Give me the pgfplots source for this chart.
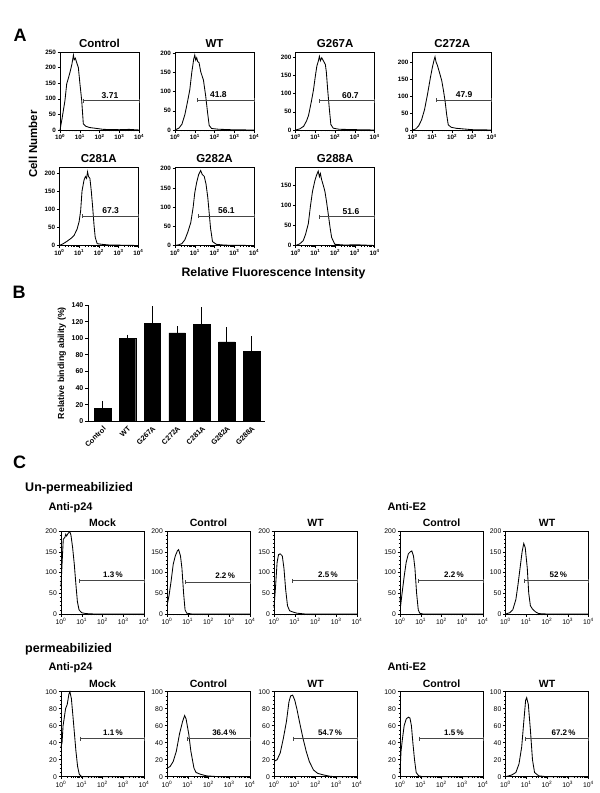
\documentclass[border=0pt]{standalone}
\usepackage{fontspec}
\setmainfont{Liberation Sans}
\usepackage{pgfplots}
\pgfplotsset{compat=1.18}
\newcommand{\fs}[1]{\fontsize{#1}{#1}\selectfont}
\tikzset{
  glab/.style={anchor=base, yshift=2.5pt, font=\bfseries\fs{8.5}},
  glabc/.style={anchor=base, yshift=3.3pt, font=\bfseries\fs{8}},
}
\pgfplotsset{
  every axis/.append style={/pgf/number format/assume math mode=true},
  every axis title shift=0pt,
  fbase/.style={scale only axis, anchor=south west, xmin=0, xmax=4, ymin=0, clip=false,
    xtick={0,1,2,3,4},
    xticklabels={10\textsuperscript{0},10\textsuperscript{1},10\textsuperscript{2},10\textsuperscript{3},10\textsuperscript{4}},
    minor xtick={0.301,0.477,0.602,0.699,0.778,0.845,0.903,0.954,1.301,1.477,1.602,1.699,1.778,1.845,1.903,1.954,2.301,2.477,2.602,2.699,2.778,2.845,2.903,2.954,3.301,3.477,3.602,3.699,3.778,3.845,3.903,3.954},
    tick align=outside, tick pos=left,
    major tick length=2.5pt, minor tick length=1.4pt,
    every tick/.style={black, line width=0.5pt},
    axis line style={line width=0.6pt},
    title style={at={(0.5,1)}, anchor=base},
    xticklabel style={inner sep=1.5pt},
    yticklabel style={inner sep=1.5pt},
  },
  fa/.style={fbase, width=79pt, height=78pt,
    title style={font=\bfseries\fs{11.5}, yshift=5pt},
    ticklabel style={font=\bfseries\fs{6.3}}},
  fc/.style={fbase, width=83pt,
    title style={font=\bfseries\fs{10.5}, yshift=4.3pt},
    ticklabel style={font=\fs{6.8}}},
  fc1/.style={fc, height=83pt, ymax=200, ytick={0,50,...,200}, minor y tick num=4},
  fc2/.style={fc, height=85pt, ymax=100, ytick={0,20,...,100}, minor y tick num=3},
  hist/.style={black, line width=0.85pt, no marks, sharp plot},
  gate/.style={gray!55!black, line width=0.7pt, mark=|, mark size=2pt, mark options={solid, line width=0.7pt}},
}
\begin{document}
\begin{tikzpicture}
\useasboundingbox (0pt,0pt) rectangle (600pt,-793pt);

% ---------- Panel A ----------
\node[font=\bfseries\fs{18}] at (20pt,-35.5pt) {A};
\node[font=\bfseries\fs{11.5}, rotate=90] at (33pt,-144pt) {Cell Number};
\node[font=\bfseries\fs{12.3}, anchor=base] at (273.5pt,-276pt) {Relative Fluorescence Intensity};

\begin{axis}[fa, at={(60pt,-130pt)}, ymax=250, ytick={0,50,...,250}, title={Control}]
\addplot[hist] coordinates {(0,0)(0.1,35)(0.25,94)(0.34,148)(0.42,165)(0.51,186)(0.6,210)(0.68,240)(0.72,225)(0.78,230)(0.85,215)(0.93,200)(1.01,148)(1.1,94)(1.18,20)(1.3,12)(1.5,8)(1.85,5)(2.2,2)(3,1)(3.5,2)(4,0)};
\addplot[gate] coordinates {(1.18,94)(4,94)};
\node[glab] at (axis cs:2.53,94) {3.71};
\end{axis}

\begin{axis}[fa, at={(175pt,-130pt)}, ymax=203, ytick={0,50,...,200}, title={WT}]
\addplot[hist] coordinates {(0,0)(0.2,5)(0.35,15)(0.5,40)(0.62,70)(0.75,105)(0.85,150)(0.95,185)(1.0,195)(1.05,182)(1.1,188)(1.15,178)(1.22,175)(1.3,152)(1.44,130)(1.55,90)(1.65,45)(1.73,12)(1.85,4)(2.2,2)(3,0.5)(4,0)};
\addplot[gate] coordinates {(1.15,77)(4,77)};
\node[glab] at (axis cs:2.2,77) {41.8};
\end{axis}

\begin{axis}[fa, at={(295.7pt,-130pt)}, ymax=214, ytick={0,50,...,200}, title={G267A}]
\addplot[hist] coordinates {(0,0)(0.2,3)(0.4,10)(0.55,25)(0.65,40)(0.8,80)(0.9,110)(1.0,150)(1.07,175)(1.15,190)(1.2,202)(1.25,190)(1.32,198)(1.4,190)(1.5,180)(1.55,160)(1.62,110)(1.7,60)(1.78,15)(1.9,5)(2.2,2)(3,1)(4,0)};
\addplot[gate] coordinates {(1.19,80)(4,80)};
\node[glab] at (axis cs:2.77,80) {60.7};
\end{axis}

\begin{axis}[fa, at={(412.7pt,-130pt)}, ymax=229, ytick={0,50,...,200}, title={C272A}]
\addplot[hist] coordinates {(0,0)(0.15,3)(0.3,12)(0.45,30)(0.6,60)(0.75,105)(0.9,155)(1.0,185)(1.08,205)(1.13,215)(1.18,200)(1.25,190)(1.35,170)(1.47,145)(1.56,115)(1.64,85)(1.72,45)(1.8,15)(1.95,8)(2.2,5)(2.6,3)(3,1)(4,0)};
\addplot[gate] coordinates {(1.21,87)(4,87)};
\node[glab] at (axis cs:2.6,87) {47.9};
\end{axis}

\begin{axis}[fa, at={(59.3pt,-245.5pt)}, ymax=215, ytick={0,50,...,200}, title={C281A}]
\addplot[hist] coordinates {(0,0)(0.2,5)(0.4,12)(0.6,20)(0.75,28)(0.9,45)(1.0,65)(1.08,95)(1.15,150)(1.25,180)(1.32,190)(1.38,185)(1.43,203)(1.48,190)(1.55,185)(1.62,150)(1.69,105)(1.76,55)(1.82,22)(1.92,5)(2.2,3)(2.6,1)(3.0,1)(4,0)};
\addplot[gate] coordinates {(1.16,81)(4,81)};
\node[glab] at (axis cs:2.6,81) {67.3};
\end{axis}

\begin{axis}[fa, at={(175pt,-245.5pt)}, ymax=203, ytick={0,50,...,200}, title={G282A}]
\addplot[hist] coordinates {(0,0)(0.2,2)(0.35,5)(0.5,15)(0.65,35)(0.8,60)(0.92,100)(1.0,137)(1.1,165)(1.2,185)(1.3,195)(1.38,185)(1.48,180)(1.57,160)(1.66,125)(1.73,85)(1.8,45)(1.9,10)(2.1,3)(2.5,1)(3,0.5)(4,0)};
\addplot[gate] coordinates {(1.2,77)(4,77)};
\node[glab] at (axis cs:2.6,77) {56.1};
\end{axis}

\begin{axis}[fa, at={(295.7pt,-245.5pt)}, ymax=195, ytick={0,50,...,150}, title={G288A}]
\addplot[hist] coordinates {(0,0)(0.2,4)(0.38,12)(0.5,28)(0.64,55)(0.75,100)(0.85,135)(0.97,162)(1.05,175)(1.14,186)(1.2,172)(1.25,180)(1.31,165)(1.4,150)(1.48,135)(1.56,110)(1.65,78)(1.74,45)(1.82,20)(1.98,3)(2.5,1)(3,2)(3.5,1)(4,0)};
\addplot[gate] coordinates {(1.19,72)(4,72)};
\node[glab] at (axis cs:2.8,72) {51.6};
\end{axis}

% ---------- Panel B ----------
\node[font=\bfseries\fs{18}] at (19pt,-292.5pt) {B};
\begin{axis}[at={(88pt,-421.3pt)}, anchor=south west, scale only axis, width=177pt, height=116.3pt,
  xmin=-0.59, xmax=6.54, ymin=0, ymax=140, ytick={0,20,...,140},
  axis lines*=left, axis line style={line width=0.9pt},
  xtick={0,1,2,3,4,5,6}, xticklabels={Control,WT,G267A,C272A,C281A,G282A,G288A},
  xtick style={draw=none},
  ytick style={black, line width=0.8pt}, tick align=outside, major tick length=3pt,
  xticklabel style={rotate=45, anchor=north east, font=\bfseries\fs{7.3}, inner sep=0.8pt},
  yticklabel style={font=\bfseries\fs{7}, inner sep=1.5pt},
  ylabel={Relative binding ability (\%)},
  ylabel style={font=\bfseries\fs{8.8}, at={(axis description cs:-0.147,0.5)}, anchor=center}]
\addplot[ybar, bar width=16.5pt, fill=black, draw=black,
  error bars/.cd, y dir=plus, y explicit,
  error bar style={line width=0.9pt, black},
  error mark options={line width=0.9pt, mark size=3.5pt, black}]
  coordinates {(0,15.5) +- (0,5) (1,100) +- (0,0) (2,118) +- (0,16.5) (3,106.5) +- (0,4) (4,116.5) +- (0,16.5) (5,95.5) +- (0,13.5) (6,84.5) +- (0,13.5)};
\end{axis}

% ---------- Panel C ----------
\node[font=\bfseries\fs{18}] at (19.5pt,-462.5pt) {C};
\node[font=\bfseries\fs{12.5}, anchor=base west] at (21.7pt,-491pt) {Un-permeabilizied};
\node[font=\bfseries\fs{11}, anchor=base west] at (45pt,-510.7pt) {Anti-p24};
\node[font=\bfseries\fs{11}, anchor=base west] at (384pt,-510.7pt) {Anti-E2};
\node[font=\bfseries\fs{12.5}, anchor=base west] at (21.7pt,-652.7pt) {permeabilizied};
\node[font=\bfseries\fs{11}, anchor=base west] at (45pt,-670.7pt) {Anti-p24};
\node[font=\bfseries\fs{11}, anchor=base west] at (384pt,-670.7pt) {Anti-E2};

% row 1
\begin{axis}[fc1, at={(61pt,-614pt)}, title={Mock}]
\addplot[hist] coordinates {(0,66)(0.05,120)(0.11,180)(0.19,185)(0.23,192)(0.27,188)(0.35,195)(0.43,198)(0.48,190)(0.56,160)(0.64,120)(0.72,70)(0.79,30)(0.87,10)(1.0,3)(1.2,1)(1.6,0)(4,0)};
\addplot[gate] coordinates {(0.87,80)(4,80)};
\node[glabc] at (axis cs:2.5,80) {1.3\,\%};
\end{axis}

\begin{axis}[fc1, at={(167pt,-614pt)}, title={Control}]
\addplot[hist] coordinates {(0,20)(0.1,45)(0.2,80)(0.3,120)(0.4,140)(0.5,152)(0.56,155)(0.65,140)(0.72,110)(0.8,50)(0.87,10)(0.95,2)(1.2,0)(4,0)};
\addplot[gate] coordinates {(0.88,77)(4,77)};
\node[glabc] at (axis cs:2.8,77) {2.2\,\%};
\end{axis}

\begin{axis}[fc1, at={(274pt,-614pt)}, title={WT}]
\addplot[hist] coordinates {(0,15)(0.08,70)(0.15,125)(0.22,143)(0.3,145)(0.4,140)(0.48,110)(0.56,60)(0.65,20)(0.75,8)(0.9,5)(1.1,2)(1.5,0)(4,0)};
\addplot[gate] coordinates {(0.87,80)(4,80)};
\node[glabc] at (axis cs:2.6,80) {2.5\,\%};
\end{axis}

\begin{axis}[fc1, at={(400pt,-614pt)}, title={Control}]
\addplot[hist] coordinates {(0,40)(0.03,20)(0.1,50)(0.2,90)(0.3,125)(0.4,145)(0.5,150)(0.57,152)(0.65,140)(0.72,110)(0.8,50)(0.88,10)(0.95,2)(1.1,0)(4,0)};
\addplot[gate] coordinates {(0.88,80)(4,80)};
\node[glabc] at (axis cs:2.6,80) {2.2\,\%};
\end{axis}

\begin{axis}[fc1, at={(505.5pt,-614pt)}, title={WT}]
\addplot[hist] coordinates {(0,0)(0.2,3)(0.35,10)(0.5,35)(0.6,70)(0.7,110)(0.8,150)(0.88,170)(0.95,160)(1.05,110)(1.12,50)(1.2,20)(1.3,12)(1.45,5)(1.6,1)(2,0)(4,0)};
\addplot[gate] coordinates {(0.9,80)(4,80)};
\node[glabc] at (axis cs:2.55,80) {52\,\%};
\end{axis}

% row 2
\begin{axis}[fc2, at={(61pt,-776.7pt)}, title={Mock}]
\addplot[hist] coordinates {(0,35)(0.05,40)(0.1,60)(0.15,68)(0.22,80)(0.3,85)(0.38,97)(0.43,100)(0.5,92)(0.58,70)(0.65,50)(0.72,30)(0.8,12)(0.88,3)(1,0)(4,0)};
\addplot[gate] coordinates {(0.92,44.7)(4,44.7)};
\node[glabc] at (axis cs:2.5,44.7) {1.1\,\%};
\end{axis}

\begin{axis}[fc2, at={(167pt,-776.7pt)}, title={Control}]
\addplot[hist] coordinates {(0,10)(0.15,12)(0.3,18)(0.45,30)(0.6,50)(0.75,65)(0.85,72)(0.92,68)(1.05,50)(1.15,30)(1.3,10)(1.4,5)(1.6,3)(1.9,1)(2.2,0.5)(2.5,0)(4,0)};
\addplot[gate] coordinates {(0.96,44.7)(4,44.7)};
\node[glabc] at (axis cs:2.76,44.7) {36.4\,\%};
\end{axis}

\begin{axis}[fc2, at={(274pt,-776.7pt)}, title={WT}]
\addplot[hist] coordinates {(0,18)(0.15,20)(0.3,28)(0.45,45)(0.6,65)(0.72,88)(0.8,95)(0.9,96)(1.0,90)(1.1,80)(1.25,62)(1.4,45)(1.55,30)(1.7,18)(1.9,8)(2.1,4)(2.4,2)(2.7,0.5)(3,0)(4,0)};
\addplot[gate] coordinates {(0.92,44.7)(4,44.7)};
\node[glabc] at (axis cs:2.7,44.7) {54.7\,\%};
\end{axis}

\begin{axis}[fc2, at={(400pt,-776.7pt)}, title={Control}]
\addplot[hist] coordinates {(0,5)(0.05,30)(0.12,45)(0.2,60)(0.3,68)(0.4,70)(0.48,69)(0.55,60)(0.62,40)(0.7,20)(0.78,5)(0.9,1)(1.1,0)(4,0)};
\addplot[gate] coordinates {(0.93,44.7)(4,44.7)};
\node[glabc] at (axis cs:2.6,44.7) {1.5\,\%};
\end{axis}

\begin{axis}[fc2, at={(505.5pt,-776.7pt)}, title={WT}]
\addplot[hist] coordinates {(0,0)(0.3,2)(0.5,5)(0.65,15)(0.78,35)(0.9,70)(0.97,90)(1.02,93)(1.1,85)(1.2,55)(1.3,20)(1.4,5)(1.6,1)(2,0)(4,0)};
\addplot[gate] coordinates {(0.97,44.7)(4,44.7)};
\node[glabc] at (axis cs:2.8,44.7) {67.2\,\%};
\end{axis}
\end{tikzpicture}
\end{document}
